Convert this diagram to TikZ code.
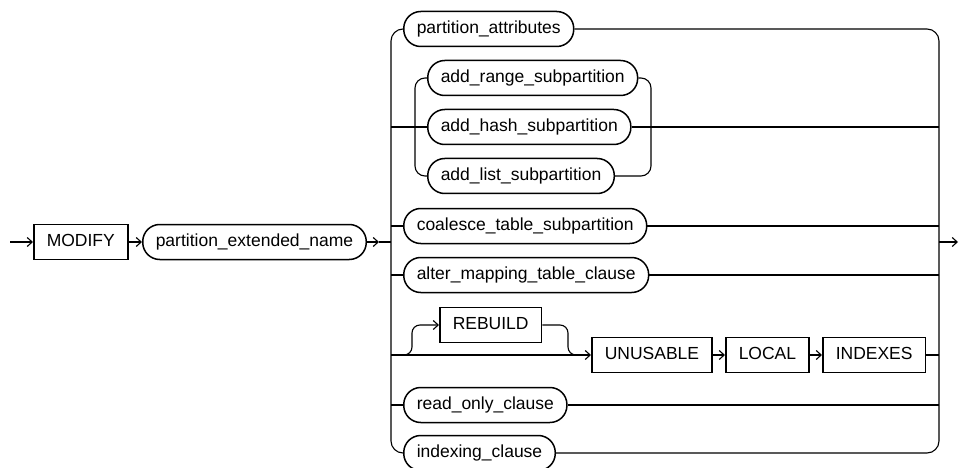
\documentclass[tikz,border=0pt]{standalone}
\usepackage{fontspec}
\setmainfont{Liberation Sans}
\usetikzlibrary{arrows.meta}

\tikzset{
  kwbox/.style={draw,line width=1.5pt,anchor=west,minimum height=35pt,
    inner xsep=13pt,text height=13pt,text depth=4pt},
  ntbox/.style={kwbox,rounded corners=17pt},
}

\begin{document}
\begin{tikzpicture}[x=1pt,y=-1pt,line width=1.1pt,
    >={Straight Barb[length=5pt,width=9pt]},
    every node/.style={font=\fontsize{17.5}{21}\selectfont}]
  \useasboundingbox (0,0) rectangle (959,468);
  \coordinate (in) at (10,242);
  \coordinate (tip) at (379,242);
  \coordinate (out) at (958,242);
  \coordinate (ls) at (391,0);
  \coordinate (rs) at (939,0);
  \coordinate (ir) at (651,0);
  \coordinate (rj) at (568,355);

  \node[kwbox] (MOD) at (33,242) {MODIFY};
  \node[ntbox] (PEN) at (142,242) {partition\_extended\_name};

  \node[ntbox] (PA) at (403,29) {partition\_attributes};
  \node[ntbox] (ARS) at (427,78) {add\_range\_subpartition};
  \node[ntbox] (AHS) at (427,127) {add\_hash\_subpartition};
  \node[ntbox] (ALS) at (427,176) {add\_list\_subpartition};
  \node[ntbox] (CTS) at (403,226) {coalesce\_table\_subpartition};
  \node[ntbox] (AMT) at (403,275) {alter\_mapping\_table\_clause};
  \node[kwbox] (REB) at (439,325) {REBUILD};
  \node[kwbox] (UNU) at (591,355) {UNUSABLE};
  \node[kwbox] (LOC) at (725,355) {LOCAL};
  \node[kwbox] (IDX) at (822,355) {INDEXES};
  \node[ntbox] (ROC) at (403,405) {read\_only\_clause};
  \node[ntbox] (IC) at (403,453) {indexing\_clause};

  \draw[->] (in) -- (MOD);
  \draw[->] (MOD) -- (PEN);
  \draw[->] (PEN) -- (tip);
  \draw (tip) -- (ls |- PEN);
  \draw[->] (rs |- PEN) -- (out);

  % outer choice
  \draw[rounded corners=12] (PA.west) -| (ls |- IC) -- (IC.west);
  \draw[rounded corners=12] (PA.east) -| (rs |- IC) -- (IC.east);

  % add_*_subpartition
  \draw (ls |- AHS) -- (AHS.west);
  \draw (AHS.east) -- (rs |- AHS);
  \draw[rounded corners=10] (ARS.west) -- ++(-12,0) |- (ALS.west);
  \draw[rounded corners=10] (ARS.east) -| (ir |- ALS) -- (ALS.east);

  \draw (ls |- CTS) -- (CTS.west) (CTS.east) -- (rs |- CTS);
  \draw (ls |- AMT) -- (AMT.west) (AMT.east) -- (rs |- AMT);

  % [REBUILD] UNUSABLE LOCAL INDEXES
  \draw[->] (ls |- UNU) -- (UNU);
  \draw[->,rounded corners=8] (ls |- UNU) ++(10,0) -| ++(11,-30) -- (REB.west);
  \draw[rounded corners=8] (REB.east) -| (rj) -- ++(12,0);
  \draw[->] (UNU) -- (LOC);
  \draw[->] (LOC) -- (IDX);
  \draw (IDX.east) -- (rs |- IDX);

  \draw (ls |- ROC) -- (ROC.west) (ROC.east) -- (rs |- ROC);
\end{tikzpicture}
\end{document}
